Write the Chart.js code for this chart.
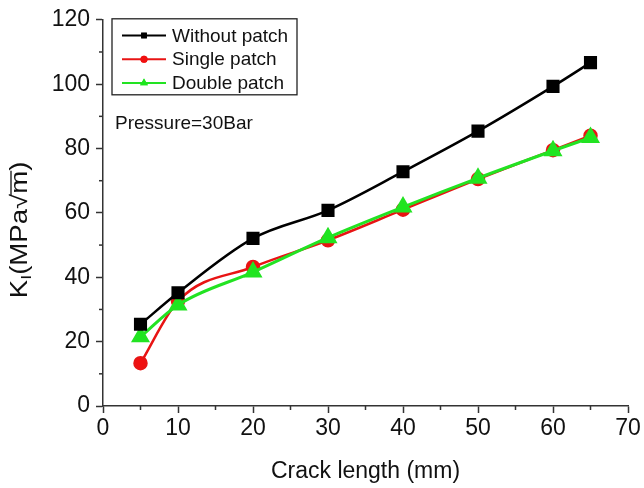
<!DOCTYPE html>
<html>
<head>
<meta charset="utf-8">
<script src="https://cdn.jsdelivr.net/npm/chart.js@4.4.1/dist/chart.umd.min.js"></script>
<style>
    html, body { margin: 0; padding: 0; background: #fff; }
    #wrap { width: 644px; height: 488px; }
</style>
</head>
<body>
<div id="wrap"><canvas id="kChart" width="644" height="488"></canvas></div>
<script>
// crack length (mm) and stress intensity factor K_I (MPa*sqrt(m))
const crackLength = [5, 10, 20, 30, 40, 50, 60, 65];
const withoutPatch = [25.4, 35.2, 52.1, 60.8, 72.8, 85.4, 99.3, 106.7];
const singlePatch = [13.3, 32.6, 43.2, 51.5, 61.0, 70.5, 79.5, 84.0];
const doublePatch = [21.5, 31.4, 41.6, 52.3, 61.8, 70.8, 79.3, 83.4];

const seriesLabels = ['Without patch', 'Single patch', 'Double patch'];
const xMinorTicks = [5, 15, 25, 35, 45, 55, 65];
const yMinorTicks = [10, 30, 50, 70, 90, 110];
const noteText = 'Pressure=30Bar';

const FONT = "'Liberation Sans', Arial, sans-serif";
const AXIS_COLOR = '#333';

function toPoints(values) {
    return values.map((v, i) => ({ x: crackLength[i], y: v }));
}

// minor ticks, shorter than the major ones
const minorTicks = {
    id: 'minorTicks',
    afterDraw(chart) {
        const ctx = chart.ctx;
        const xs = chart.scales.x;
        const ys = chart.scales.y;
        ctx.save();
        ctx.strokeStyle = AXIS_COLOR;
        ctx.lineWidth = 1.5;
        xMinorTicks.forEach(v => {
            const px = xs.getPixelForValue(v);
            ctx.beginPath();
            ctx.moveTo(px, xs.top);
            ctx.lineTo(px, xs.top + 4);
            ctx.stroke();
        });
        yMinorTicks.forEach(v => {
            const py = ys.getPixelForValue(v);
            ctx.beginPath();
            ctx.moveTo(ys.right, py);
            ctx.lineTo(ys.right - 4, py);
            ctx.stroke();
        });
        ctx.restore();
    }
};

// y title with subscript I (a bit stretched along its length, like the original)
const yTitle = {
    id: 'yTitle',
    afterDraw(chart) {
        const ctx = chart.ctx;
        const area = chart.chartArea;
        const parts = [
            { t: 'K', size: 23, dy: 0 },
            { t: 'I', size: 15, dy: 6 },
            { t: '(MPa\u221Am)', size: 23, dy: 0 }
        ];
        ctx.save();
        ctx.translate(21, (area.top + area.bottom) / 2 + 17);
        ctx.rotate(-Math.PI / 2);
        ctx.scale(1.2, 1);
        ctx.fillStyle = '#111';
        ctx.textBaseline = 'middle';
        let total = 0;
        parts.forEach(p => {
            ctx.font = p.size + 'px ' + FONT;
            p.w = ctx.measureText(p.t).width;
            total += p.w;
        });
        let x = -total / 2;
        parts.forEach(p => {
            ctx.font = p.size + 'px ' + FONT;
            ctx.fillText(p.t, x, p.dy);
            x += p.w;
        });
        // overline above the m under the root sign
        ctx.font = '23px ' + FONT;
        const mW = ctx.measureText('m').width;
        const parW = ctx.measureText(')').width;
        const mStart = x - parW - mW;
        ctx.strokeStyle = '#111';
        ctx.lineWidth = 1.3;
        ctx.beginPath();
        ctx.moveTo(mStart - 1, -10);
        ctx.lineTo(mStart + mW, -10);
        ctx.stroke();
        ctx.restore();
    }
};

// boxed legend and note inside the plot
const boxLegend = {
    id: 'boxLegend',
    afterDraw(chart) {
        const ctx = chart.ctx;
        const area = chart.chartArea;
        const left = area.left + 9;
        const top = area.top - 1;
        ctx.save();
        ctx.strokeStyle = '#222';
        ctx.lineWidth = 1.3;
        ctx.strokeRect(left, top, 185, 76);
        const markers = [
            { style: 'rect', r: 4 },
            { style: 'circle', r: 3.5 },
            { style: 'triangle', r: 4.5 }
        ];
        chart.data.datasets.forEach((ds, i) => {
            const yy = top + 16.7 + i * 23.7;
            ctx.strokeStyle = ds.borderColor;
            ctx.lineWidth = 2;
            ctx.beginPath();
            ctx.moveTo(left + 10, yy);
            ctx.lineTo(left + 54, yy);
            ctx.stroke();
            ctx.fillStyle = ds.backgroundColor;
            Chart.helpers.drawPoint(ctx, {
                pointStyle: markers[i].style,
                radius: markers[i].r,
                rotation: 0,
                borderWidth: 0
            }, left + 32, yy);
            ctx.fill();
            ctx.fillStyle = '#111';
            ctx.font = '19px ' + FONT;
            ctx.textBaseline = 'middle';
            ctx.fillText(ds.label, left + 60, yy + 1);
        });
        ctx.fillStyle = '#111';
        ctx.font = '19px ' + FONT;
        ctx.textBaseline = 'middle';
        ctx.fillText(noteText, area.left + 12, area.top + 104);
        ctx.restore();
    }
};

const ctx = document.getElementById('kChart').getContext('2d');
new Chart(ctx, {
    type: 'line',
    data: {
        datasets: [{
            label: seriesLabels[0],
            data: toPoints(withoutPatch),
            borderColor: '#000',
            backgroundColor: '#000',
            borderWidth: 2.5,
            pointStyle: 'rect',
            pointRadius: 7.5,
            order: 0
        }, {
            label: seriesLabels[1],
            data: toPoints(singlePatch),
            borderColor: '#e81414',
            backgroundColor: '#f01010',
            borderWidth: 2.5,
            pointStyle: 'circle',
            pointRadius: 6,
            order: 2
        }, {
            label: seriesLabels[2],
            data: toPoints(doublePatch),
            borderColor: '#22e322',
            backgroundColor: '#1ee61e',
            borderWidth: 3,
            pointStyle: 'triangle',
            pointRadius: 8,
            order: 1
        }]
    },
    options: {
        responsive: false,
        animation: false,
        devicePixelRatio: 1,
        layout: { padding: { left: 0, right: 16, top: 16, bottom: 0 } },
        plugins: {
            legend: { display: false },
            tooltip: { enabled: false }
        },
        elements: {
            point: { borderWidth: 0, hoverRadius: 7 },
            line: { cubicInterpolationMode: 'monotone' }
        },
        scales: {
            x: {
                type: 'linear',
                min: 0,
                max: 70,
                afterFit: s => { s.height = 82; },
                border: { color: AXIS_COLOR, width: 1.5 },
                grid: { drawOnChartArea: false, tickLength: 7, tickColor: AXIS_COLOR, tickWidth: 1.5 },
                ticks: { stepSize: 10, padding: 2, color: '#111', font: { family: FONT, size: 23 } },
                title: {
                    display: true,
                    text: 'Crack length (mm)',
                    color: '#111',
                    font: { family: FONT, size: 23 },
                    padding: { top: 0, bottom: 3 }
                }
            },
            y: {
                min: 0,
                max: 120,
                afterFit: s => { s.width = 103; },
                border: { color: AXIS_COLOR, width: 1.5 },
                grid: { drawOnChartArea: false, tickLength: 7, tickColor: AXIS_COLOR, tickWidth: 1.5 },
                ticks: { stepSize: 20, padding: 6, color: '#111', font: { family: FONT, size: 23 } }
            }
        }
    },
    plugins: [minorTicks, yTitle, boxLegend]
});
</script>
</body>
</html>
